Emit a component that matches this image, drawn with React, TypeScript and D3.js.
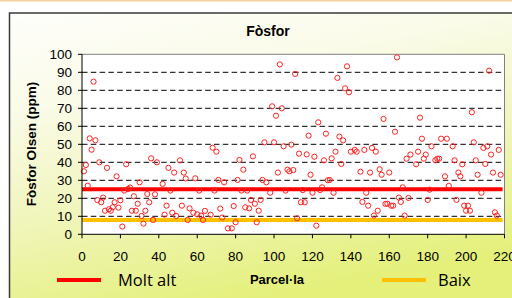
import React from "react";
import * as d3 from "d3";

const parcels = [1,2,3,4,5,6,7,8,9,10,11,12,13,14,15,16,17,18,19,20,21,22,23,24,25,26,27,28,29,30,31,32,33,34,35,36,37,38,39,42,43,44,45,46,47,48,49,51,52,53,54,55,56,58,59,60,61,62,63,64,67,68,69,70,71,72,73,74,76,78,79,80,81,82,83,84,85,86,87,88,89,90,91,92,93,94,95,96,98,99,100,101,102,103,104,105,106,107,108,109,110,111,112,113,114,115,116,117,118,119,120,121,122,123,124,125,126,127,128,129,130,131,132,133,134,135,136,137,138,139,140,142,143,145,146,147,148,149,150,151,152,153,154,155,156,157,158,159,160,161,162,163,164,165,166,167,168,169,170,171,174,175,176,177,178,179,180,181,182,184,185,186,187,189,190,191,193,194,195,196,197,198,199,200,201,202,203,204,205,206,208,209,210,211,212,213,214,215,216,217,218];
const olsenP = [35,38.5,27,53.3,47,84.8,52.2,19,40,17.8,20.4,13.1,36.9,13.9,13.1,15,17.8,32.2,14.8,18.9,4.3,24.3,38.9,25.2,26,13.1,21.1,13.1,17,28.9,10.2,5.9,13.1,22.4,17.8,42.2,8,22.2,40,28,10.9,15.9,36.9,24.3,12,34.3,10.2,41.1,15.9,34.3,31,8,14.4,12,31.1,11.1,24.3,10.4,8,13,10.9,48.1,24.3,45.9,30.2,14.3,9.3,28.9,3.3,3.3,15.7,6.7,30.2,41.3,24.3,35.9,15,24.3,14.4,19.1,43.3,17,6.7,13.1,19.1,30.2,51.1,28.9,23.1,71.1,51.1,65.9,34.3,94.4,70,48.9,24.3,35.9,35,49.8,35.7,89.1,8.9,44.8,17.8,24.6,17.8,44.4,54.8,33.1,23.1,43.1,4.8,62.2,24.6,26.1,41.1,55.9,30,30.2,42.2,23.1,45.9,86.9,54.3,39.1,52.2,81.1,93.3,78.9,45.9,46.9,45.9,34.8,18,46.9,23.1,15.9,34.3,48,10.4,45.9,13.1,36.1,33.1,64.1,16.9,17,34.3,15.9,15.9,57,98.3,20.4,18,26.1,10.4,42,20.2,44.3,38.9,45.9,64.8,53.1,42,44.3,19.1,24.8,48.9,41.1,42,42,53.1,32.2,53.1,26.9,48.9,41.1,19.1,34.3,32.2,38.9,15.9,13.1,15.9,13.1,67.8,51.1,41.1,33.1,23.1,48,39.1,48.9,90.9,44.3,34.3,12.2,10.4,46.9,33.1];

const yTicks = [0,10,20,30,40,50,60,70,80,90,100];
const xTicks = [0,20,40,60,80,100,120,140,160,180,200,220];
const thresholdNames = ["Molt alt", "Baix"];
const thresholdValues = [25, 8];
const thresholdColors = ["#ff0000", "#ffc000"];

export default function App() {
  const x = d3.scaleLinear().domain([0, 220]).range([82, 504.5]);
  const y = d3.scaleLinear().domain([0, 100]).range([234.3, 54.3]);
  const font = "'Liberation Sans', Arial, sans-serif";
  return (
    <svg width={512} height={298} style={{ position: "absolute", left: 0, top: 0 }} fontFamily={font}>
      <defs>
        <linearGradient id="bg" x1="0" y1="0" x2="0.35" y2="1">
          <stop offset="0" stopColor="#fefefb" />
          <stop offset="0.3" stopColor="#fafbe8" />
          <stop offset="0.65" stopColor="#f0f5b8" />
          <stop offset="1" stopColor="#e4f07a" />
        </linearGradient>
      </defs>
      <rect x={0} y={0} width={512} height={298} fill="#ffffff" />
      <rect x={0} y={0} width={512} height={1.6} fill="#f3d2a6" />
      <rect x={9.5} y={13} width={530} height={300} fill="url(#bg)" stroke="#3a3a3a" strokeWidth={1.5} />
      <text x={268} y={36} textAnchor="middle" fontWeight="bold" fontSize={14} fill="#000">Fòsfor</text>
      <rect x={x(0)} y={y(100)} width={x(220) - x(0)} height={y(0) - y(100)} fill="#ffffff" />
      {yTicks.filter(t => t > 0 && t < 100).map(t => (
        <line key={"g" + t} x1={x(0)} x2={x(220)} y1={y(t)} y2={y(t)} stroke="#000" strokeWidth={1} strokeDasharray="5.5,3.3" />
      ))}
      <line x1={x(0)} x2={x(220)} y1={y(100)} y2={y(100)} stroke="#808080" strokeWidth={1} />
      <line x1={x(220)} x2={x(220)} y1={y(100)} y2={y(0)} stroke="#808080" strokeWidth={1} />
      {thresholdValues.map((v, i) => (
        <line key={"t" + i} x1={x(0)} x2={x(219)} y1={y(v)} y2={y(v)} stroke={thresholdColors[i]} strokeWidth={4} />
      ))}
      {parcels.map((p, i) => (
        <circle key={"c" + i} cx={x(p)} cy={y(olsenP[i])} r={2.6} fill="none" stroke="#ff2020" strokeWidth={1} />
      ))}
      <line x1={x(0)} x2={x(0)} y1={y(100)} y2={y(0)} stroke="#000" strokeWidth={1} />
      <line x1={x(0)} x2={x(220)} y1={y(0)} y2={y(0)} stroke="#000" strokeWidth={1} />
      {yTicks.map(t => (
        <g key={"y" + t}>
          <line x1={x(0) - 4} x2={x(0)} y1={y(t)} y2={y(t)} stroke="#000" />
          <text x={72} y={y(t) + 4.8} textAnchor="end" fontSize={13.5} fill="#000">{t}</text>
        </g>
      ))}
      {xTicks.map(t => (
        <g key={"x" + t}>
          <line x1={x(t)} x2={x(t)} y1={y(0)} y2={y(0) + 4} stroke="#000" />
          <text x={x(t)} y={261} textAnchor="middle" fontSize={13.5} fill="#000">{t}</text>
        </g>
      ))}
      <text transform={`translate(36,144) rotate(-90)`} textAnchor="middle" fontWeight="bold" fontSize={13.5} fill="#000">Fòsfor Olsen (ppm)</text>
      <text x={277} y={284} textAnchor="middle" fontWeight="bold" fontSize={13} fill="#000">Parcel·la</text>
      <line x1={57} x2={101} y1={280} y2={280} stroke={thresholdColors[0]} strokeWidth={4} />
      <text x={118} y={286} fontSize={16.5} fontFamily="'Open Sans', sans-serif" fill="#000">{thresholdNames[0]}</text>
      <line x1={382} x2={426} y1={280} y2={280} stroke={thresholdColors[1]} strokeWidth={4} />
      <text x={438} y={286} fontSize={16.5} fontFamily="'Open Sans', sans-serif" fill="#000">{thresholdNames[1]}</text>
    </svg>
  );
}
